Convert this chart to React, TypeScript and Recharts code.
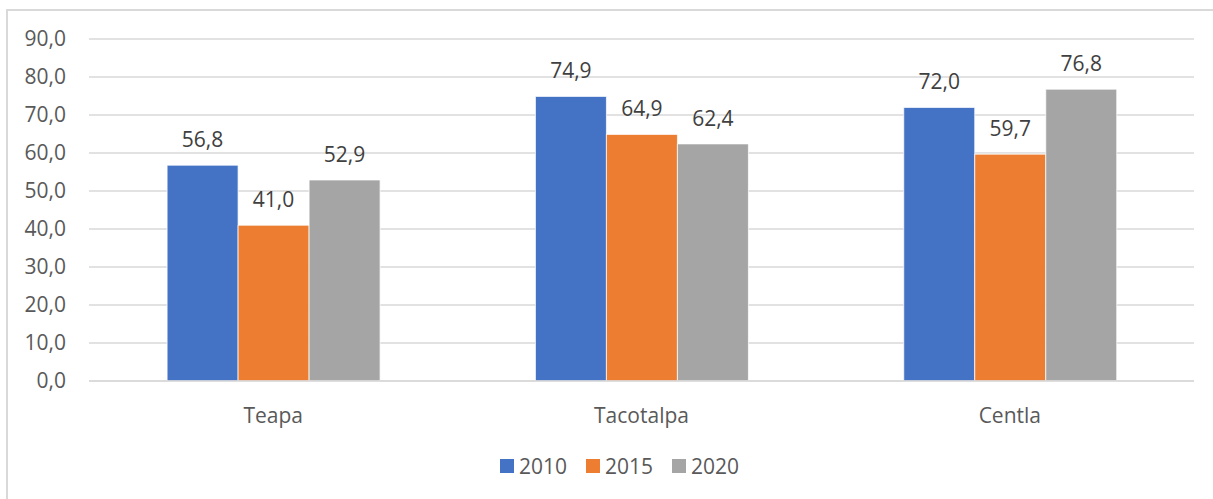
import React from "react";
import {
  BarChart,
  Bar,
  XAxis,
  YAxis,
  CartesianGrid,
  Legend,
  LabelList,
} from "recharts";

const categories = ["Teapa", "Tacotalpa", "Centla"];
const values2010 = [56.8, 74.9, 72.0];
const values2015 = [41.0, 64.9, 59.7];
const values2020 = [52.9, 62.4, 76.8];
const yTicks = [0, 10, 20, 30, 40, 50, 60, 70, 80, 90];

const series = [
  { key: "y2010", name: "2010", color: "#4472C4" },
  { key: "y2015", name: "2015", color: "#ED7D31" },
  { key: "y2020", name: "2020", color: "#A5A5A5" },
];

const data = categories.map((c, i) => ({
  name: c,
  y2010: values2010[i],
  y2015: values2015[i],
  y2020: values2020[i],
}));

const font = "'Open Sans', 'Noto Sans', sans-serif";
const fmt = (v: number) => v.toFixed(1).replace(".", ",");

function LegendBox() {
  return (
    <div
      style={{
        display: "flex",
        alignItems: "center",
        height: 30,
        paddingLeft: 500,
        fontFamily: font,
        fontSize: 21,
        color: "#595959",
      }}
    >
      {series.map((s) => (
        <div key={s.key} style={{ display: "flex", alignItems: "center", marginRight: 19 }}>
          <span style={{ width: 14, height: 14, background: s.color, marginRight: 5 }} />
          <span style={{ lineHeight: "30px" }}>{s.name}</span>
        </div>
      ))}
    </div>
  );
}

export default function App() {
  return (
    <div style={{ position: "fixed", left: 0, top: 0, width: 1213, height: 499, overflow: "hidden", background: "#fff" }}>
      <div
        style={{
          position: "absolute",
          left: 6,
          top: 9,
          width: 1300,
          height: 600,
          border: "2px solid #d9d9d9",
        }}
      />
      <div style={{ position: "absolute", left: 0, top: 0 }}>
        <BarChart
          width={1213}
          height={499}
          data={data}
          margin={{ top: 39, right: 19, left: 8, bottom: 18 }}
          barCategoryGap="21.2%"
          barGap={0}
        >
          <CartesianGrid vertical={false} stroke="#d9d9d9" strokeWidth={1.5} />
          <XAxis
            dataKey="name"
            height={70}
            tickLine={false}
            tickSize={0}
            tickMargin={27}
            axisLine={{ stroke: "#d9d9d9", strokeWidth: 1.5 }}
            tick={{ fill: "#595959", fontSize: 21, fontFamily: font }}
          />
          <YAxis
            width={81}
            domain={[0, 90]}
            ticks={yTicks}
            tickFormatter={fmt}
            axisLine={false}
            tickLine={false}
            tickSize={0}
            tickMargin={23}
            tick={{ fill: "#595959", fontSize: 21, fontFamily: font }}
          />
          <Legend
            verticalAlign="bottom"
            wrapperStyle={{ left: 0, width: 1213, height: 30 }}
            content={() => <LegendBox />}
          />
          {series.map((s) => (
            <Bar
              key={s.key}
              dataKey={s.key}
              name={s.name}
              fill={s.color}
              stroke="#ffffff"
              strokeWidth={0.75}
              isAnimationActive={false}
            >
              <LabelList
                dataKey={s.key}
                position="top"
                offset={18}
                formatter={(v: any) => fmt(Number(v))}
                style={{ fill: "#404040", fontSize: 21, fontFamily: font }}
              />
            </Bar>
          ))}
        </BarChart>
      </div>
    </div>
  );
}
